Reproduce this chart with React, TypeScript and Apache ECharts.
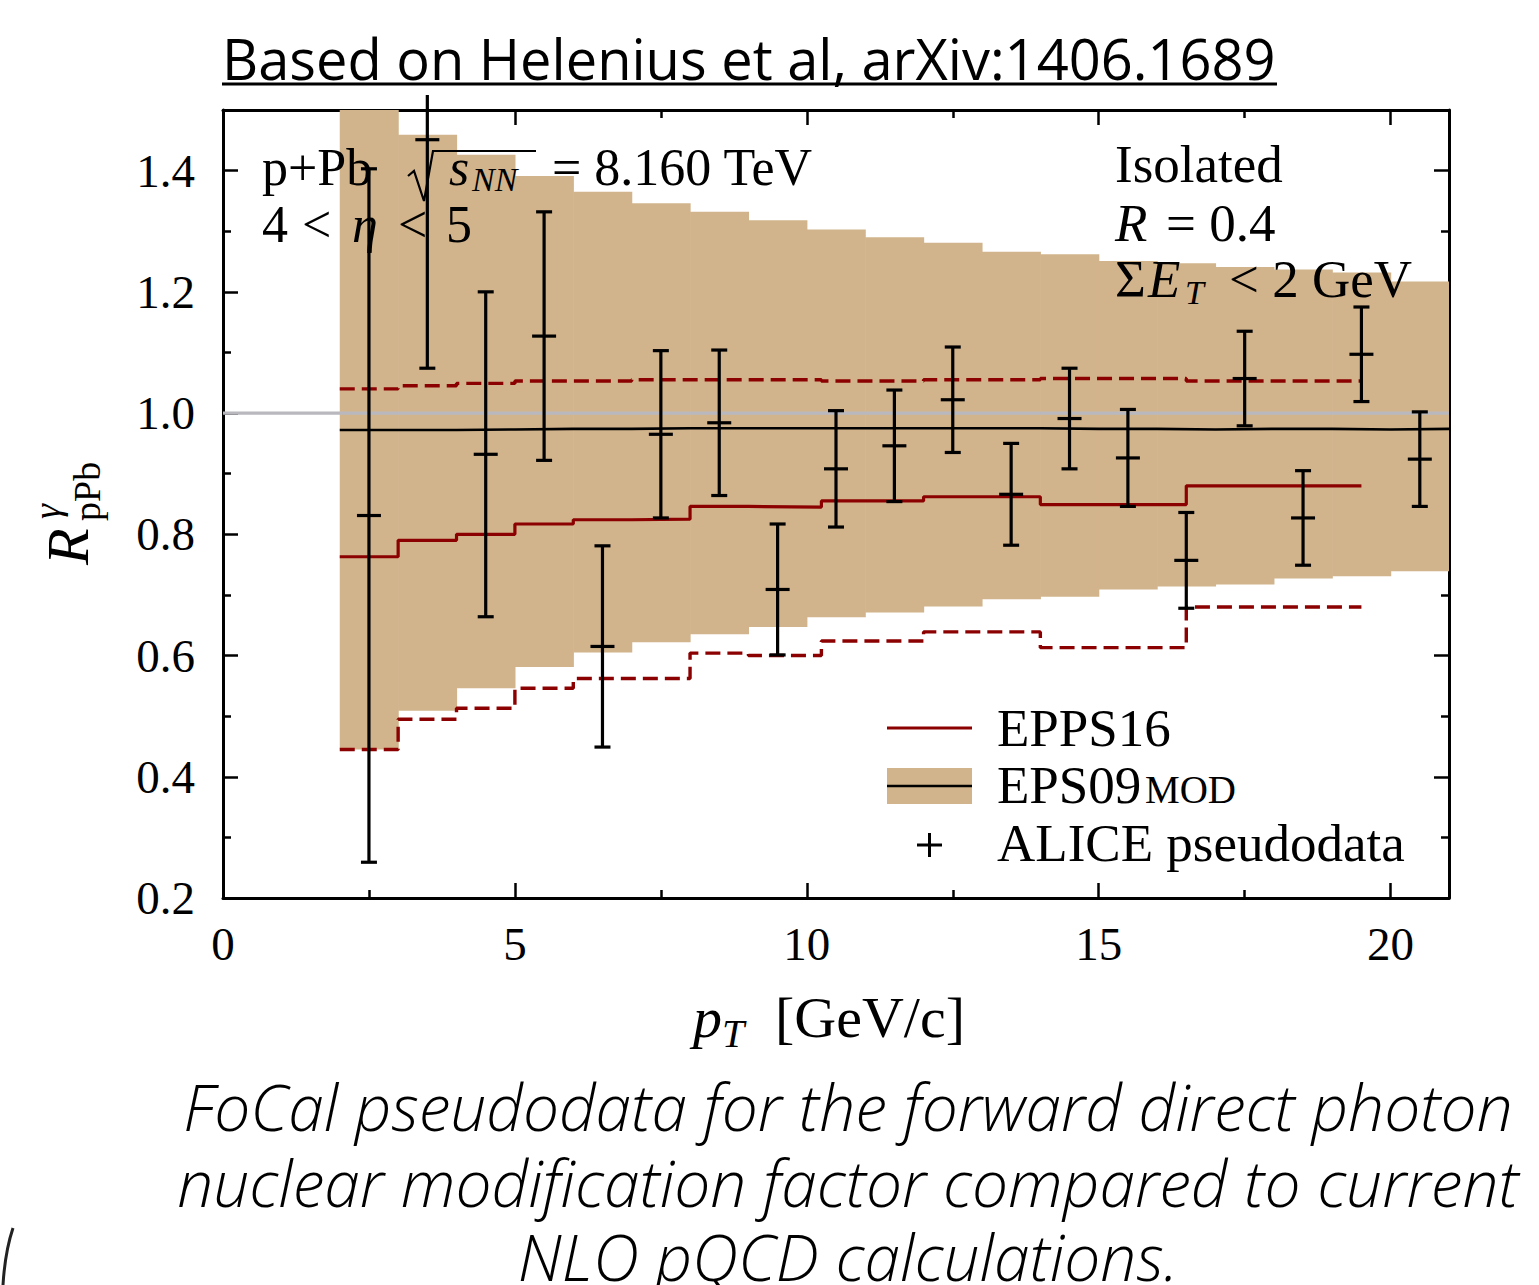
import React, { useEffect, useRef } from "react";
import * as echarts from "echarts";

// ---------------- data ----------------
// EPS09mod band (bins of 1 GeV from 2 to 21)
const BAND_EDGES = [2, 3, 4, 5, 6, 7, 8, 9, 10, 11, 12, 13, 14, 15, 16, 17, 18, 19, 20, 21];
const BAND_UPPER = [1.62, 1.459, 1.426, 1.391, 1.365, 1.346, 1.332, 1.318, 1.303, 1.29, 1.281, 1.266, 1.262, 1.251, 1.247, 1.241, 1.237, 1.232, 1.217];
const BAND_LOWER = [0.445, 0.509, 0.546, 0.581, 0.605, 0.622, 0.635, 0.647, 0.663, 0.671, 0.681, 0.693, 0.697, 0.709, 0.714, 0.717, 0.727, 0.731, 0.739];
const BAND_CENTRAL = [0.972, 0.972, 0.973, 0.974, 0.974, 0.975, 0.975, 0.975, 0.975, 0.975, 0.975, 0.975, 0.974, 0.974, 0.973, 0.974, 0.974, 0.973, 0.974];

// EPPS16
const EPPS_EDGES = [2, 3, 4, 5, 6, 7, 8, 9, 10.25, 12, 14, 16.5, 19.5];
const EPPS_CENTRAL = [0.763, 0.79, 0.8, 0.817, 0.824, 0.825, 0.846, 0.845, 0.855, 0.862, 0.849, 0.88];
const EPPS_UPPER = [1.04, 1.045, 1.049, 1.053, 1.053, 1.055, 1.055, 1.055, 1.053, 1.055, 1.057, 1.053];
const EPPS_LOWER = [0.445, 0.495, 0.513, 0.546, 0.562, 0.562, 0.604, 0.6, 0.624, 0.639, 0.613, 0.68];

// ALICE pseudodata
const DATA_X = [2.5, 3.5, 4.5, 5.5, 6.5, 7.5, 8.5, 9.5, 10.5, 11.5, 12.5, 13.5, 14.5, 15.5, 16.5, 17.5, 18.5, 19.5, 20.5];
const DATA_Y = [0.831, 1.451, 0.932, 1.127, 0.615, 0.965, 0.984, 0.709, 0.908, 0.946, 1.022, 0.866, 0.991, 0.926, 0.757, 1.057, 0.827, 1.097, 0.924];
const DATA_ERR = [0.572, 0.377, 0.268, 0.205, 0.166, 0.138, 0.12, 0.108, 0.096, 0.092, 0.087, 0.084, 0.083, 0.08, 0.079, 0.078, 0.078, 0.078, 0.078];

// axes
const X_MAJOR = [0, 5, 10, 15, 20];
const X_MINOR = [2.5, 7.5, 12.5, 17.5];
const Y_MAJOR = [0.2, 0.4, 0.6, 0.8, 1.0, 1.2, 1.4];
const Y_MINOR = [0.3, 0.5, 0.7, 0.9, 1.1, 1.3];
const REF_LINE = 1.0;

// ---------------- style ----------------
const SERIF = '"Liberation Serif", "DejaVu Serif", serif';
const SANS = '"Open Sans", Lato, "Noto Sans", sans-serif';
const TAN = "#D2B48C";
const RED = "#8B0000";
const GREY = "#B8B8BE";

function stepData(edges: number[], vals: number[]) {
  const d: number[][] = vals.map((v, i) => [edges[i], v]);
  d.push([edges[edges.length - 1], vals[vals.length - 1]]);
  return d;
}

function T(text: string, x: number, base: number, size: number, o: any = {}) {
  const style: any = {
    text,
    fontSize: size,
    fontFamily: o.family || SERIF,
    fontStyle: o.italic ? "italic" : "normal",
    fontWeight: o.weight || "normal",
    fill: "#000",
    align: o.align || "left",
    verticalAlign: "middle",
  };
  if (o.lineHeight) style.lineHeight = o.lineHeight;
  return {
    type: "text",
    x,
    y: base - size * 0.34,
    z: 100,
    silent: true,
    style,
  };
}

function xAxisCfg(position: string, minor: boolean) {
  return {
    type: "value",
    min: 0,
    max: 21,
    position,
    gridIndex: 0,
    axisLine: { show: !minor, onZero: false, lineStyle: { color: "#000", width: 3 } },
    axisTick: {
      show: true,
      inside: true,
      length: minor ? 8 : 15,
      lineStyle: { color: "#000", width: 2.5 },
      customValues: minor ? X_MINOR : X_MAJOR,
    },
    axisLabel: {
      show: !minor && position === "bottom",
      customValues: X_MAJOR,
      fontSize: 47,
      fontFamily: SERIF,
      color: "#000",
      margin: 22,
      formatter: (v: number) => String(v),
    },
    splitLine: { show: false },
  };
}

function yAxisCfg(position: string, minor: boolean) {
  return {
    type: "value",
    min: 0.2,
    max: 1.5,
    position,
    gridIndex: 0,
    axisLine: { show: !minor, onZero: false, lineStyle: { color: "#000", width: 3 } },
    axisTick: {
      show: true,
      inside: true,
      length: minor ? 8 : 15,
      lineStyle: { color: "#000", width: 2.5 },
      customValues: minor ? Y_MINOR : Y_MAJOR,
    },
    axisLabel: {
      show: !minor && position === "left",
      customValues: Y_MAJOR,
      fontSize: 47,
      fontFamily: SERIF,
      color: "#000",
      margin: 28,
      formatter: (v: number) => v.toFixed(1),
    },
    splitLine: { show: false },
  };
}

export default function App() {
  const ref = useRef<HTMLDivElement>(null);

  useEffect(() => {
    if (!ref.current) return;
    const chart = echarts.init(ref.current, null, { renderer: "svg" });

    const bandData = BAND_UPPER.map((u, i) => [BAND_EDGES[i], BAND_EDGES[i + 1], BAND_LOWER[i], u]);
    const pointData = DATA_X.map((x, i) => [x, DATA_Y[i], DATA_ERR[i]]);
    const cap = { family: SANS, italic: true, weight: 300, align: "center", lineHeight: 66 };

    const graphic: any[] = [
      // title
      T("Based on Helenius et al, arXiv:1406.1689", 222, 77, 56, { family: SANS }),
      { type: "line", z: 100, shape: { x1: 222, y1: 84, x2: 1277, y2: 84 }, style: { stroke: "#000", lineWidth: 3 } },

      // annotations left
      T("p+Pb", 262, 185, 52),
      { type: "polyline", z: 100, shape: { points: [[408, 176], [414, 171], [424, 201], [433, 151], [536, 151]] }, style: { stroke: "#000", lineWidth: 2.2, fill: null } },
      T("s", 449, 185, 52, { italic: true }),
      T("NN", 472, 191, 34, { italic: true }),
      T("= 8.160 TeV", 552, 185, 52),
      T("4", 262, 242, 52),
      T("<", 302, 242, 52),
      T("η", 352, 242, 52, { italic: true }),
      T("<", 398, 242, 52),
      T("5", 446, 242, 52),

      // annotations right
      T("Isolated", 1115, 182, 53),
      T("R", 1115, 241, 53, { italic: true }),
      T("= 0.4", 1166, 241, 53),
      T("Σ", 1115, 297, 53),
      T("E", 1148, 297, 53, { italic: true }),
      T("T", 1185, 304, 34, { italic: true }),
      T("< 2 GeV", 1229, 297, 53),

      // legend
      { type: "line", z: 100, shape: { x1: 887, y1: 728, x2: 972, y2: 728 }, style: { stroke: RED, lineWidth: 3 } },
      T("EPPS16", 997, 746, 53),
      { type: "rect", z: 100, shape: { x: 887, y: 768, width: 85, height: 36 }, style: { fill: TAN } },
      { type: "line", z: 101, shape: { x1: 887, y1: 786, x2: 972, y2: 786 }, style: { stroke: "#000", lineWidth: 2.5 } },
      T("EPS09", 997, 803, 53),
      T("MOD", 1145, 803, 39),
      { type: "line", z: 100, shape: { x1: 917, y1: 845, x2: 942, y2: 845 }, style: { stroke: "#000", lineWidth: 3 } },
      { type: "line", z: 100, shape: { x1: 929.5, y1: 833, x2: 929.5, y2: 857 }, style: { stroke: "#000", lineWidth: 3 } },
      T("ALICE pseudodata", 997, 861, 53),

      // x axis title
      T("p", 693, 1037, 58, { italic: true }),
      T("T", 722, 1047, 40, { italic: true }),
      T("[GeV/c]", 775, 1037, 58),

      // y axis title (rotated)
      {
        type: "group",
        x: 88,
        y: 565,
        rotation: Math.PI / 2,
        z: 100,
        children: [
          T("R", 0, 0, 60, { italic: true }),
          T("γ", 46, -28, 38, { italic: true }),
          T("pPb", 44, 12, 38),
        ],
      },

      // caption
      T("FoCal pseudodata for the forward direct photon", 848, 1128, 64, cap),
      T("nuclear modification factor compared to current", 848, 1204, 64, cap),
      T("NLO pQCD calculations.", 848, 1278, 64, cap),

      // slide edge artefact
      { type: "bezierCurve", z: 100, shape: { x1: 13, y1: 1228, x2: 3, y2: 1285, cpx1: 5, cpy1: 1252 }, style: { stroke: "#222", lineWidth: 3, fill: null } },
    ];

    chart.setOption({
      animation: false,
      backgroundColor: "#fff",
      grid: { left: 223, top: 110, width: 1226, height: 788 },
      xAxis: [xAxisCfg("bottom", false), xAxisCfg("bottom", true), xAxisCfg("top", false), xAxisCfg("top", true)],
      yAxis: [yAxisCfg("left", false), yAxisCfg("left", true), yAxisCfg("right", false), yAxisCfg("right", true)],
      graphic,
      series: [
        {
          name: "EPS09mod band",
          type: "custom",
          xAxisIndex: 0,
          yAxisIndex: 0,
          z: 1,
          encode: { x: [0, 1], y: [2, 3] },
          data: bandData,
          renderItem: (params: any, api: any) => {
            const p0 = api.coord([api.value(0), api.value(3)]);
            const p1 = api.coord([api.value(1), api.value(2)]);
            const cs = params.coordSys;
            const r = echarts.graphic.clipRectByRect(
              { x: p0[0], y: p0[1], width: p1[0] - p0[0] + 0.6, height: p1[1] - p0[1] },
              { x: cs.x, y: cs.y, width: cs.width, height: cs.height }
            );
            if (!r) return null;
            return { type: "rect", shape: r, style: { fill: TAN }, z2: 0 };
          },
        },
        {
          name: "ref",
          type: "custom",
          z: 6,
          clip: false,
          encode: { x: 0, y: 1 },
          data: [[0, REF_LINE, 21]],
          renderItem: (params: any, api: any) => {
            const a = api.coord([api.value(0), api.value(1)]);
            const b = api.coord([api.value(2), api.value(1)]);
            return { type: "line", shape: { x1: a[0], y1: a[1], x2: b[0], y2: b[1] }, style: { stroke: GREY, lineWidth: 3.4 } };
          },
        },
        {
          name: "EPS09mod",
          type: "line",
          step: "end",
          z: 7,
          data: stepData(BAND_EDGES, BAND_CENTRAL),
          showSymbol: false,
          lineStyle: { color: "#000", width: 2.6 },
        },
        {
          name: "EPPS16",
          type: "line",
          step: "end",
          z: 8,
          data: stepData(EPPS_EDGES, EPPS_CENTRAL),
          showSymbol: false,
          lineStyle: { color: RED, width: 3.2 },
        },
        {
          name: "EPPS16 upper",
          type: "line",
          step: "end",
          z: 8,
          data: stepData(EPPS_EDGES, EPPS_UPPER),
          showSymbol: false,
          lineStyle: { color: RED, width: 3.4, type: [15, 7] },
        },
        {
          name: "EPPS16 lower",
          type: "line",
          step: "end",
          z: 8,
          data: stepData(EPPS_EDGES, EPPS_LOWER),
          showSymbol: false,
          lineStyle: { color: RED, width: 3.4, type: [15, 7] },
        },
        {
          name: "ALICE pseudodata",
          type: "custom",
          z: 10,
          clip: false,
          encode: { x: 0, y: 1 },
          data: pointData,
          renderItem: (params: any, api: any) => {
            const x = api.value(0);
            const y = api.value(1);
            const e = api.value(2);
            const c = api.coord([x, y]);
            const top = api.coord([x, y + e]);
            const bot = api.coord([x, y - e]);
            const cs = params.coordSys;
            const topY = Math.max(top[1], cs.y - 15);
            const st = { stroke: "#000", lineWidth: 3.2 };
            const children: any[] = [
              { type: "line", shape: { x1: c[0], y1: topY, x2: c[0], y2: bot[1] }, style: st },
              { type: "line", shape: { x1: c[0] - 8, y1: bot[1], x2: c[0] + 8, y2: bot[1] }, style: st },
              { type: "line", shape: { x1: c[0] - 12, y1: c[1], x2: c[0] + 12, y2: c[1] }, style: st },
            ];
            if (top[1] >= cs.y) {
              children.push({ type: "line", shape: { x1: c[0] - 8, y1: top[1], x2: c[0] + 8, y2: top[1] }, style: st });
            }
            return { type: "group", children };
          },
        },
      ],
    });

    return () => chart.dispose();
  }, []);

  return (
    <div
      ref={ref}
      style={{ position: "fixed", left: 0, top: 0, width: 1539, height: 1285, background: "#fff" }}
    />
  );
}
